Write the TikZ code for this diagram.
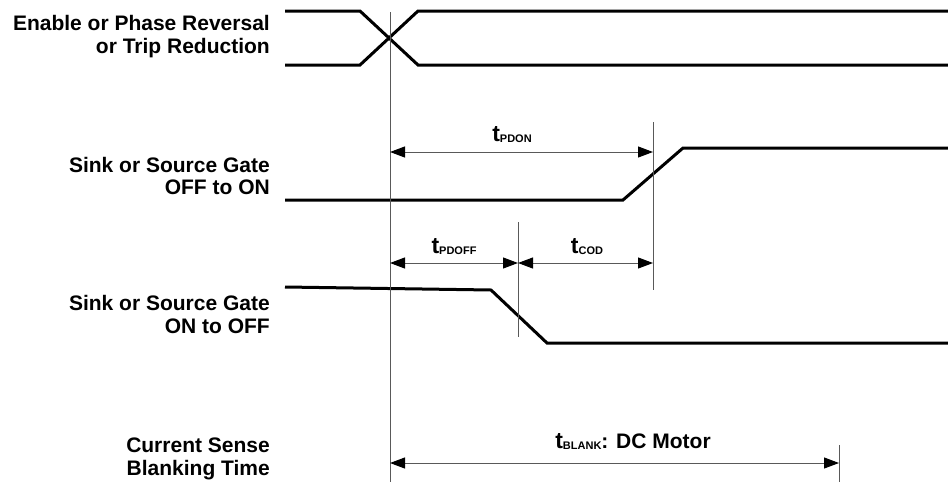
\documentclass[tikz,border=0pt]{standalone}
\usepackage{fontspec}
\setmainfont{Liberation Sans}
\usetikzlibrary{arrows.meta}
\newcommand\tsubx[1]{{\fontsize{23}{24}\selectfont t}\raisebox{-1.5pt}{\fontsize{11}{12}\selectfont #1}}
\begin{document}
\begin{tikzpicture}[x=1pt,y=-1pt,
 sig/.style={line width=3pt, line join=miter},
 refline/.style={line width=1pt, black!65},
 dim/.style={line width=1pt, black!65, {Triangle[length=15pt,width=11pt,black]}-{Triangle[length=15pt,width=11pt,black]}},
 lbl/.style={font=\fontsize{21}{23}\selectfont\bfseries, anchor=base east, inner sep=0pt},
 tlbl/.style={font=\fontsize{21}{22}\selectfont\bfseries, anchor=base, inner sep=0pt}]
\useasboundingbox (0,0) rectangle (948,482);
% signals
\draw[sig] (285,11) -- (360,11) -- (418,65) -- (948,65);
\draw[sig] (285,65) -- (360,65) -- (418,11) -- (948,11);
\draw[sig] (285,200) -- (623,200) -- (683,148) -- (948,148);
\draw[sig] (285,287) -- (491,290) -- (547,343) -- (948,343);
% reference lines
\coordinate (r0t) at (390,12);  \coordinate (r0b) at (390,482);
\coordinate (r1t) at (653,122); \coordinate (r1b) at (653,290);
\coordinate (r2t) at (518,222); \coordinate (r2b) at (518,337);
\coordinate (r3t) at (839,445); \coordinate (r3b) at (839,482);
\draw[refline] (r0t) -- (r0b);
\draw[refline] (r1t) -- (r1b);
\draw[refline] (r2t) -- (r2b);
\draw[refline] (r3t) -- (r3b);
% dimension arrows
\coordinate (pdonA) at (390,152); \coordinate (pdonB) at (653,152);
\coordinate (pdoffA) at (390,263); \coordinate (pdoffB) at (518,263);
\coordinate (codA) at (518,263); \coordinate (codB) at (653,263);
\coordinate (blkA) at (390,463); \coordinate (blkB) at (839,463);
\draw[dim] (pdonA) -- (pdonB);
\draw[dim] (pdoffA) -- (pdoffB);
\draw[dim] (codA) -- (codB);
\draw[dim] (blkA) -- (blkB);
% timing labels
\node[tlbl] (tpdon) at (512,141) {\tsubx{PDON}};
\node[tlbl] (tpdoff) at (454,253) {\tsubx{PDOFF}};
\node[tlbl] (tcod) at (587,253) {\tsubx{COD}};
\node[tlbl] (tblank) at (633,448) {\tsubx{BLANK}: DC Motor};
% signal names
\node[lbl] (l1a) at (270,30) {Enable or Phase Reversal};
\node[lbl] (l1b) at (270,53) {or Trip Reduction};
\node[lbl] (l2a) at (270,172) {Sink or Source Gate};
\node[lbl] (l2b) at (270,194) {OFF to ON};
\node[lbl] (l3a) at (270,310) {Sink or Source Gate};
\node[lbl] (l3b) at (270,333) {ON to OFF};
\node[lbl] (l4a) at (270,452) {Current Sense};
\node[lbl] (l4b) at (270,475) {Blanking Time};
\end{tikzpicture}
\end{document}
